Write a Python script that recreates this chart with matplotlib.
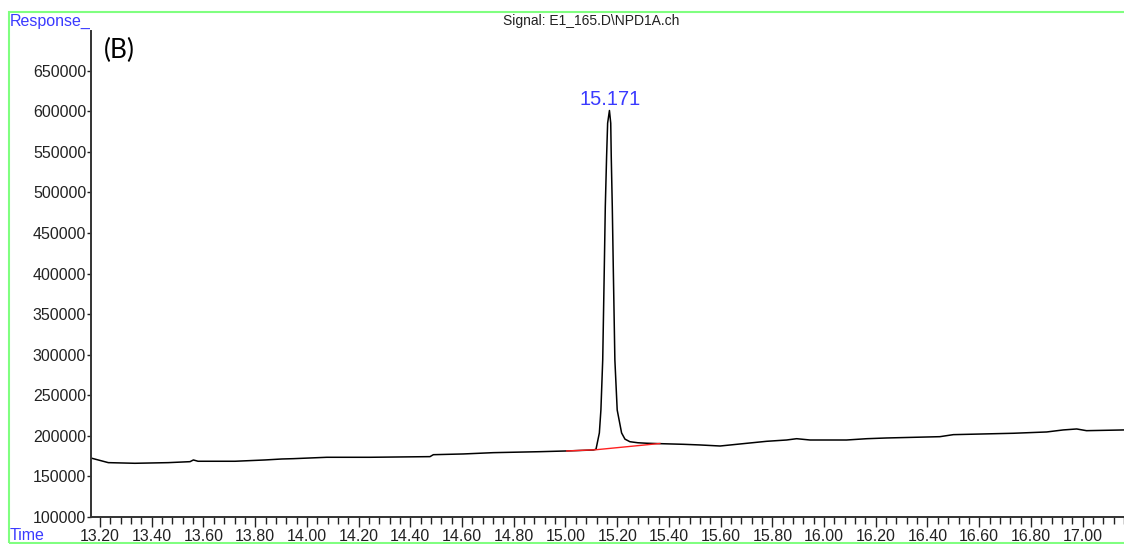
import matplotlib.pyplot as plt
from matplotlib.patches import Rectangle
from matplotlib.ticker import MultipleLocator

plt.rcParams['font.family'] = ['Liberation Sans', 'DejaVu Sans']

# chromatogram trace (retention time in min, detector response)
time_min = [
    13.168, 13.232, 13.335, 13.464, 13.548, 13.561, 13.579, 13.722, 13.838,
    13.903, 13.948, 14.077, 14.244, 14.476, 14.489, 14.605, 14.721, 14.901,
    15.005, 15.108, 15.118, 15.131, 15.137, 15.144, 15.150, 15.154, 15.159,
    15.163, 15.170, 15.175, 15.177, 15.181, 15.185, 15.191, 15.200, 15.217,
    15.230, 15.249, 15.280, 15.314, 15.365, 15.456, 15.520, 15.598, 15.675,
    15.778, 15.855, 15.894, 15.946, 16.087, 16.165, 16.242, 16.448, 16.500,
    16.732, 16.861, 16.925, 16.977, 17.015, 17.160,
]
response = [
    172400, 167000, 166200, 167000, 168200, 170300, 168700, 168700, 170300,
    171500, 171900, 173600, 173600, 174400, 176800, 177700, 179300, 180500,
    181400, 182600, 183500, 203600, 231900, 293600, 404600, 482600, 544200,
    585400, 601000, 585400, 544200, 482600, 404600, 293600, 231900, 203600,
    196000, 192800, 191500, 190900, 190400, 189600, 188800, 187500, 190000,
    193300, 194900, 196500, 194900, 194900, 196500, 197400, 199000, 201500,
    203200, 204800, 207300, 208500, 206400, 207300,
]

# integration baseline under the peak
base_time = [15.005, 15.118, 15.365]
base_resp = [181400, 182900, 190600]

peak_rt = 15.171
peak_height = 601000

blue = '#3a3aff'
dark = '#222222'

fig = plt.figure(figsize=(11.24, 5.44), dpi=100)
ax = fig.add_axes([91 / 1124, 1 - 517 / 544, 1 - 91 / 1124, (517 - 31) / 544])

ax.plot(time_min, response, color='black', lw=1.1)
ax.plot(base_time, base_resp, color='#ff2020', lw=1.0)

ax.set_xlim(13.165, 17.160)
ax.set_ylim(100000, 699000)

ax.xaxis.set_major_locator(MultipleLocator(0.2))
ax.xaxis.set_minor_locator(MultipleLocator(0.04))
ax.yaxis.set_major_locator(MultipleLocator(50000))
ax.xaxis.set_major_formatter(lambda v, p: f'{v:.2f}')
ax.yaxis.set_major_formatter(lambda v, p: f'{v:.0f}')

ax.tick_params(axis='x', which='major', length=7, width=1, pad=1.5,
               labelsize=11.5, colors=dark)
ax.tick_params(axis='x', which='minor', length=5, width=1, colors=dark)
ax.tick_params(axis='y', which='major', length=3, width=1, pad=0.5,
               labelsize=11.5, colors=dark)

for side in ('top', 'right'):
    ax.spines[side].set_visible(False)
for side in ('left', 'bottom'):
    ax.spines[side].set_color('#333333')
    ax.spines[side].set_linewidth(1.4)

ax.annotate(f'{peak_rt:.3f}', xy=(peak_rt, peak_height), xytext=(0, 1),
            textcoords='offset points', ha='center', va='bottom',
            color=blue, fontsize=14.5)

ax.text(0.012, 0.985, '(B)', transform=ax.transAxes, ha='left', va='top',
        fontsize=19, family=['Lato', 'DejaVu Sans'], color='black')

fig.text(10 / 1124, 1 - 14 / 544, 'Response_', ha='left', va='top',
         color=blue, fontsize=11.5)
fig.text(10 / 1124, 1 - 543 / 544, 'Time', ha='left', va='bottom',
         color=blue, fontsize=11.5)
fig.text(503 / 1124, 1 - 14 / 544, 'Signal: E1_165.D\\NPD1A.ch', ha='left',
         va='top', color=dark, fontsize=10)

fig.patches.append(Rectangle((8.5 / 1124, 1.5 / 544), 1.2, 1 - 13.5 / 544,
                             transform=fig.transFigure, fill=False,
                             edgecolor='#80ff80', lw=1.5))

fig.savefig('out.png', dpi=100)
